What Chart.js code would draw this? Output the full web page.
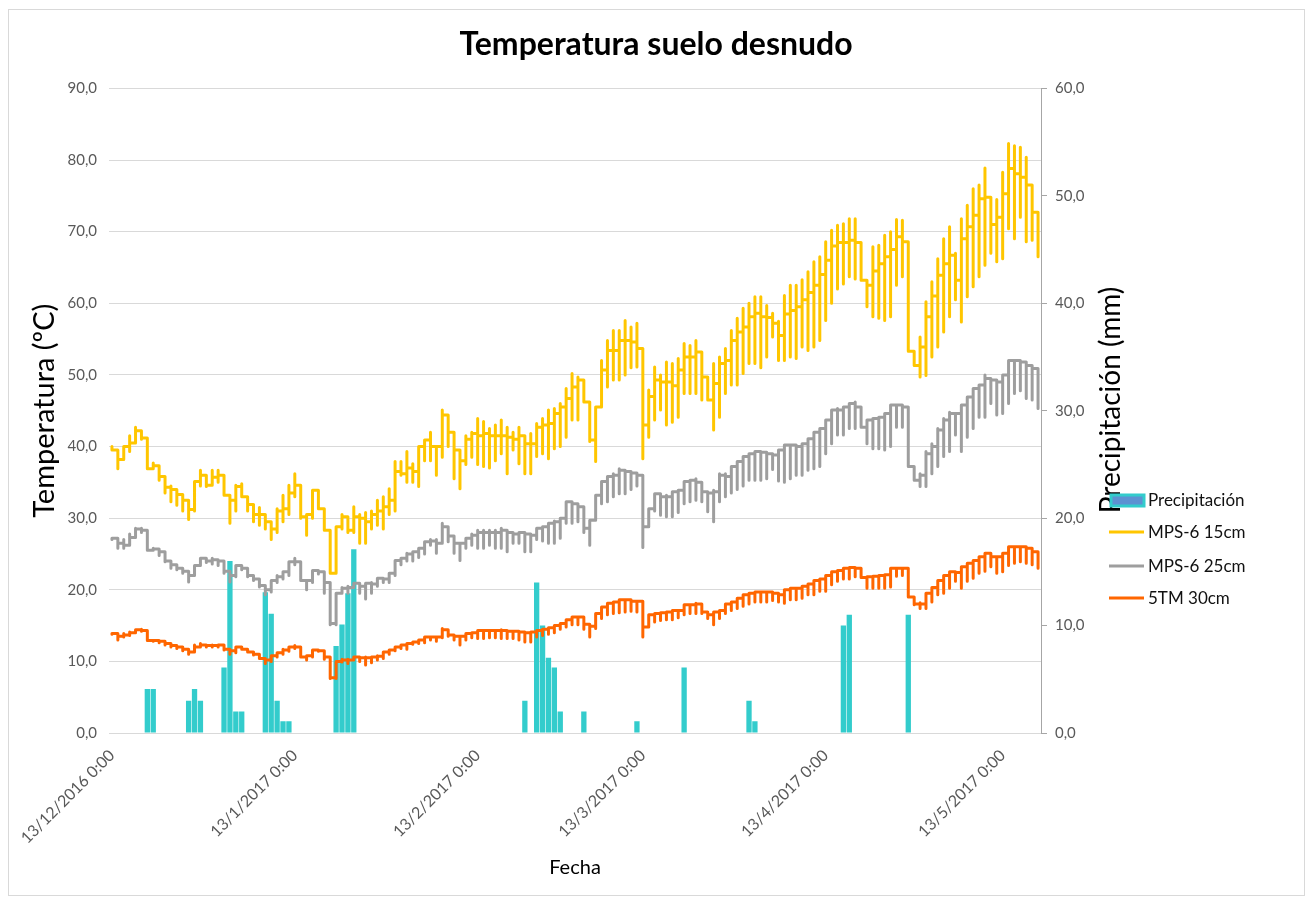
<!DOCTYPE html>
<html><head><meta charset="utf-8">
<script src="https://cdn.jsdelivr.net/npm/chart.js@4.4.1/dist/chart.umd.min.js"></script>
<style>html,body{margin:0;padding:0;background:#fff}#wrap{width:1312px;height:897px;position:relative}</style>
</head><body><div id="wrap"><canvas id="c" width="1312" height="897"></canvas></div>
<script>
// x = day index counted from 13/12/2016
const tickDays = [0, 31, 62, 90, 121, 151];
const tickLabels = ["13/12/2016 0:00", "13/1/2017 0:00", "13/2/2017 0:00", "13/3/2017 0:00", "13/4/2017 0:00", "13/5/2017 0:00"];

const precipDays = [6,7,13,14,15,19,20,21,22,26,27,28,29,30,38,39,40,41,70,72,73,74,75,76,80,89,97,108,109,124,125,135];
const precipMm   = [4.1,4.1,3.0,4.1,3.0,6.1,16.0,2.0,2.0,13.1,11.1,3.0,1.1,1.1,8.1,10.1,13.0,17.1,3.0,14.0,10.0,7.0,6.1,2.0,2.0,1.1,6.1,3.0,1.1,10.0,11.0,11.0];

// MPS-6 15cm : daily min, daily max, midnight level
const mps15Lo = [39.5,36.9,38.2,39.3,40.5,41.0,36.9,36.9,35.3,33.5,
32.3,31.8,31.0,29.8,31.0,34.5,34.4,34.6,35.0,33.4,
29.3,31.0,33.0,31.0,29.5,29.0,28.5,27.0,28.0,29.5,
30.5,33.0,30.0,27.6,30.0,31.3,28.3,22.5,22.3,28.5,
28.0,28.0,26.5,26.5,28.5,29.0,28.5,30.5,31.0,36.0,
35.0,35.0,34.4,38.0,38.0,36.0,38.5,40.0,35.5,34.1,
37.5,38.5,37.5,37.2,37.0,38.0,39.0,36.2,39.5,37.6,
36.2,36.2,38.6,39.0,38.3,39.7,40.0,41.3,43.7,43.7,
46.2,40.7,37.9,45.5,48.3,49.3,49.3,50.0,51.0,51.1,
38.3,41.3,43.7,45.1,43.0,43.4,44.1,47.4,47.4,47.4,
46.5,46.5,42.3,44.1,47.4,48.6,48.6,50.2,51.6,51.6,
51.0,52.5,55.3,52.0,52.0,52.5,52.3,53.9,53.4,53.9,
54.8,57.6,60.0,62.0,62.7,63.7,63.4,63.2,59.5,58.1,
57.9,57.6,58.1,62.5,63.7,53.3,51.3,49.7,49.9,52.5,
53.9,56.0,58.1,60.5,57.4,60.9,62.3,63.7,65.3,67.0,
65.8,66.2,70.4,69.0,72.0,68.6,68.8,66.5];
const mps15Hi = [40.0,39.5,40.0,41.5,42.7,42.2,41.2,37.7,37.3,35.8,
34.5,34.0,33.3,32.5,35.1,36.7,36.0,36.7,36.7,36.0,
33.2,34.6,34.8,33.0,31.9,31.5,30.5,29.5,31.3,33.2,
34.6,36.2,34.6,30.5,33.9,33.9,31.3,28.3,28.8,30.5,
30.2,31.6,30.5,30.8,31.0,32.5,33.0,34.1,37.9,37.9,
39.3,37.6,40.0,40.9,42.0,40.0,45.1,44.4,42.0,39.5,
41.5,42.0,43.9,43.5,42.5,43.0,43.7,42.7,42.0,42.7,
41.3,41.8,43.2,43.9,45.1,45.3,46.0,48.1,50.2,49.7,
49.3,46.2,45.5,52.0,54.8,56.2,56.2,57.6,56.7,57.2,
53.7,47.9,51.1,50.0,51.8,51.6,52.3,54.4,54.1,54.8,
53.0,49.7,51.6,52.5,53.7,56.2,57.9,59.3,60.0,60.9,
60.9,59.7,58.6,57.5,61.1,62.5,62.5,63.3,64.4,65.8,
66.5,68.6,70.2,70.9,71.1,71.8,71.8,68.5,63.2,67.9,
68.1,69.5,70.0,71.7,71.6,68.6,53.3,55.3,60.2,63.0,
66.2,69.0,70.7,67.0,71.8,73.7,76.0,76.5,78.9,74.8,
74.5,78.3,82.3,82.0,81.8,80.4,76.5,72.7];
const mps15Lv = [39.5,38.2,40.0,40.5,42.2,41.2,36.9,37.3,35.8,34.3,
34.0,33.3,32.5,31.2,35.1,36.0,34.6,35.7,36.0,33.2,
32.5,34.4,33.0,31.9,30.5,30.5,29.5,28.5,31.0,31.3,
33.5,34.6,30.2,30.5,33.9,31.3,28.3,22.3,28.8,30.2,
28.3,30.2,30.0,29.5,30.5,31.0,31.6,32.5,36.5,36.2,
37.0,36.5,40.0,40.9,40.0,40.0,44.4,42.0,39.5,38.0,
41.0,41.8,41.5,41.8,41.5,41.5,41.5,41.3,41.0,41.5,
40.4,40.4,42.7,43.0,43.2,44.6,45.5,46.7,48.3,49.3,
46.2,40.9,45.5,50.7,53.4,53.4,54.8,54.8,54.6,53.7,
43.0,47.0,49.3,49.0,49.0,48.5,50.7,52.5,52.5,53.2,
49.7,46.5,48.8,51.6,52.0,54.8,56.0,56.7,58.1,58.6,
58.1,58.0,57.2,55.5,58.5,59.0,59.5,60.5,61.5,62.5,
64.0,66.0,68.0,68.5,68.5,68.8,68.5,63.2,62.5,64.5,
65.5,66.5,67.5,69.3,68.6,53.3,51.3,53.9,58.1,61.0,
63.9,65.5,66.7,63.2,69.0,70.7,72.3,74.6,74.8,71.0,
72.0,75.3,78.8,78.1,77.6,76.5,72.7,66.5];

// MPS-6 25cm
const mps25Lo = [27.0,25.8,25.8,26.2,27.3,28.0,25.5,25.5,24.8,23.9,
23.0,22.8,22.3,21.1,22.0,23.4,23.8,23.6,23.4,22.3,
21.1,21.8,22.8,21.8,21.3,20.4,19.3,19.7,21.0,21.5,
22.0,23.5,21.3,20.0,21.0,22.2,19.5,15.1,15.1,19.5,
19.5,20.3,19.5,18.7,19.5,20.5,21.0,21.0,22.0,23.5,
24.0,24.0,24.5,25.0,26.2,25.1,26.5,26.7,25.1,24.1,
25.8,26.2,25.8,25.8,26.2,25.8,25.8,25.3,26.5,26.5,
25.3,25.3,27.0,26.8,26.5,26.5,27.2,29.3,29.3,29.5,
28.0,26.2,29.7,32.0,32.3,33.0,33.4,33.4,34.0,34.5,
25.9,28.8,31.0,30.4,30.2,30.2,30.8,32.0,32.3,32.5,
32.3,30.9,29.5,32.3,33.0,33.5,34.0,34.5,35.3,35.3,
35.3,35.5,36.8,35.2,35.0,35.5,36.0,36.0,36.7,36.9,
37.2,39.0,40.4,41.6,41.6,42.5,42.5,42.7,40.4,39.7,
39.7,39.5,40.0,42.7,42.7,37.2,35.3,34.4,34.4,36.2,
37.2,38.6,39.3,41.6,39.3,41.3,42.5,44.1,44.1,46.0,
44.4,44.6,46.0,47.4,47.8,46.7,46.5,45.3];
const mps25Hi = [27.2,27.2,27.0,27.8,28.6,28.6,28.3,25.8,25.7,25.3,
24.0,23.5,23.0,22.6,23.4,24.4,24.4,24.4,24.2,24.0,
22.6,23.4,23.4,23.0,22.0,21.5,20.6,21.3,22.0,22.5,
23.9,24.4,23.9,21.3,22.7,22.7,22.5,21.0,19.5,20.3,
20.5,20.9,20.9,20.9,21.0,21.6,21.6,22.3,24.1,24.4,
25.1,25.3,25.8,26.7,27.0,27.0,29.3,28.8,27.5,26.5,
27.2,27.8,28.3,28.3,28.3,28.3,28.6,28.3,28.0,28.0,
28.0,27.8,28.6,28.8,29.3,29.6,30.0,32.3,32.3,32.0,
31.6,28.6,33.2,35.1,35.8,36.2,36.9,36.7,36.5,36.3,
36.0,31.3,33.4,33.4,33.2,33.7,33.9,35.1,35.3,35.5,
35.0,33.7,33.9,36.2,36.2,37.2,37.9,38.6,39.0,39.3,
39.3,39.2,39.0,39.5,40.2,40.2,40.2,40.4,41.1,42.0,
42.5,43.7,45.1,45.3,45.5,46.0,46.2,45.5,42.7,43.9,
44.1,44.6,45.8,45.8,45.8,45.5,37.2,36.2,39.3,40.4,
42.5,43.9,44.8,44.6,45.8,46.9,48.1,48.6,50.0,49.5,
49.3,50.0,52.0,52.0,52.0,51.3,50.9,49.0];
const mps25Lv = [27.2,26.5,26.2,27.3,28.5,28.3,25.5,25.7,25.3,24.0,
23.5,23.0,22.6,22.0,23.4,24.4,24.0,24.2,24.0,22.6,
22.0,23.4,23.0,22.0,21.5,20.6,20.0,21.3,21.8,22.5,
23.9,23.9,21.3,21.3,22.7,22.5,21.0,15.3,19.5,20.2,
20.3,20.9,20.5,20.9,20.8,21.6,21.5,22.3,24.1,24.4,
25.0,25.3,25.8,26.7,26.8,26.5,28.8,27.5,26.5,26.5,
27.2,27.6,28.0,28.0,28.0,28.0,28.3,28.0,27.8,28.0,
27.8,27.6,28.6,28.8,29.3,29.5,30.0,32.3,32.0,31.6,
28.6,29.7,33.2,35.1,35.8,36.0,36.7,36.5,36.3,36.0,
28.8,31.3,33.4,33.0,33.0,33.7,33.9,35.1,35.3,35.0,
33.7,33.5,33.7,36.0,35.8,37.2,37.9,38.6,39.0,39.3,
39.2,39.0,38.8,39.5,40.2,40.2,40.0,40.4,41.1,42.0,
42.5,43.7,45.1,45.1,45.5,46.0,45.5,42.7,43.7,43.9,
44.1,44.6,45.8,45.8,45.5,37.2,35.3,36.0,39.0,40.0,
42.3,43.7,44.6,44.6,45.8,46.9,48.1,48.6,49.5,49.3,
49.0,50.0,52.0,52.0,51.8,51.3,50.9,48.5];

// 5TM 30cm
const tm30Lo = [13.8,13.0,13.4,13.6,14.0,14.2,12.9,12.8,12.6,12.3,
12.0,11.8,11.5,11.0,11.3,12.0,12.0,12.0,12.0,11.6,
11.0,11.2,11.7,11.3,10.9,10.4,9.7,10.0,10.6,11.0,
11.4,11.8,10.6,10.2,10.6,11.4,10.3,7.6,7.6,9.9,
9.7,10.2,10.0,9.5,9.8,10.2,10.4,11.0,11.5,11.8,
11.7,12.4,12.5,12.6,13.0,12.8,13.3,13.5,13.0,12.3,
13.0,13.3,13.2,13.2,13.3,13.3,13.2,13.2,13.2,13.0,
12.7,12.7,13.4,13.6,13.8,14.0,14.5,14.8,15.1,15.1,
14.5,13.4,14.6,16.0,16.5,16.7,16.8,16.9,17.0,16.9,
13.4,14.8,15.5,15.7,15.8,15.8,16.1,16.5,16.7,16.7,
16.7,16.0,15.1,16.0,16.7,17.1,17.4,17.7,18.0,18.3,
18.3,18.3,18.5,18.3,18.1,18.6,18.6,18.8,19.3,19.3,
19.8,19.8,20.7,21.2,21.5,21.5,21.8,21.7,20.2,20.2,
20.2,20.2,20.4,21.9,22.0,19.0,17.9,17.4,17.4,18.3,
19.3,19.5,20.2,21.2,20.2,21.2,21.6,22.3,22.6,23.2,
22.3,22.5,23.4,23.7,23.9,23.7,23.5,23.0];
const tm30Hi = [13.9,13.9,13.9,14.1,14.4,14.5,14.3,12.9,12.9,12.8,
12.5,12.2,12.0,11.7,12.3,12.5,12.3,12.3,12.3,12.3,
11.7,12.0,12.0,11.7,11.3,11.0,10.4,10.8,11.2,11.7,
12.0,12.2,12.0,10.8,11.6,11.6,11.5,10.6,10.0,10.3,
10.3,10.6,10.6,10.6,10.6,10.8,11.3,11.6,12.0,12.3,
12.5,12.7,13.0,13.4,13.4,13.4,14.6,14.4,13.7,13.5,
13.9,14.0,14.3,14.3,14.3,14.3,14.4,14.3,14.2,14.2,
14.1,14.0,14.1,14.3,14.6,14.8,15.2,15.8,16.2,16.2,
16.2,15.2,16.7,17.6,18.1,18.3,18.6,18.6,18.6,18.4,
18.4,16.5,16.7,16.8,16.9,17.1,17.1,17.9,17.9,18.1,
18.0,16.9,16.9,17.1,18.0,18.3,18.8,19.3,19.5,19.7,
19.7,19.7,19.7,19.5,20.0,20.2,20.2,20.5,20.8,21.3,
21.5,22.0,22.5,22.7,23.0,23.1,23.1,23.0,21.7,21.9,
22.0,22.1,23.0,23.0,23.0,23.0,19.0,18.2,19.5,20.3,
21.3,22.0,22.5,22.4,23.2,23.7,24.1,24.6,25.1,25.1,
24.6,25.1,26.0,26.0,26.0,25.8,25.5,24.6];
const tm30Lv = [13.9,13.5,13.7,14.0,14.4,14.3,12.9,12.9,12.8,12.5,
12.2,12.0,11.7,11.3,12.0,12.3,12.2,12.2,12.3,11.7,
11.5,12.0,11.7,11.3,11.0,10.4,10.2,10.8,11.2,11.6,
12.0,12.0,10.6,10.8,11.6,11.5,10.6,7.7,10.0,10.2,
10.2,10.6,10.5,10.5,10.6,10.7,11.3,11.6,12.0,12.3,
12.5,12.7,13.0,13.4,13.4,13.4,14.4,13.7,13.5,13.5,
13.9,14.0,14.3,14.3,14.3,14.3,14.3,14.2,14.2,14.1,
14.0,14.1,14.3,14.5,14.7,15.0,15.3,15.8,16.2,16.2,
15.2,14.9,16.7,17.6,18.1,18.3,18.6,18.6,18.4,18.4,
14.8,16.5,16.7,16.8,16.9,17.1,17.1,17.9,17.9,18.0,
16.9,16.5,16.9,17.1,18.0,18.3,18.8,19.3,19.5,19.7,
19.7,19.7,19.5,19.3,20.0,20.2,20.2,20.5,20.8,21.3,
21.5,22.0,22.5,22.7,23.0,23.1,23.0,21.7,21.8,21.9,
22.0,22.1,23.0,23.0,23.0,19.0,18.0,18.0,19.5,20.3,
21.3,22.0,22.5,22.4,23.2,23.7,24.1,24.6,25.1,24.6,
24.6,25.1,26.0,26.0,26.0,25.8,25.3,24.3];

// All readings of one day share the same x on a day-based axis (Excel date axis look)
function trace(lo, hi, lv) {
  const pts = [];
  let prev = lv[0];
  for (let d = 0; d < lv.length; d++) {
    pts.push({x: d, y: prev}, {x: d, y: lo[d]}, {x: d, y: hi[d]}, {x: d, y: lv[d]});
    prev = lv[d];
  }
  return pts;
}

const FONT = 'Lato';
const C_Y = '#FFC600', C_G = '#9E9E9E', C_O = '#FF6600', C_T = '#33CCCC';
const fmt = v => Number(v).toFixed(1).replace('.', ',');

const extras = {
  id: 'extras',
  afterDraw(chart) {
    const c = chart.ctx, a = chart.chartArea;
    // right axis title (reads bottom to top, like Excel)
    c.save();
    c.translate(a.right + 70, 400);
    c.rotate(-Math.PI / 2);
    c.font = '28px ' + FONT;
    c.fillStyle = '#000';
    c.textAlign = 'center';
    c.textBaseline = 'middle';
    c.fillText('Precipitación (mm)', 0, 0);
    c.restore();
    // legend
    const items = [
      {t: 'Precipitación', bar: true},
      {t: 'MPS-6 15cm', col: C_Y},
      {t: 'MPS-6 25cm', col: C_G},
      {t: '5TM 30cm', col: C_O}
    ];
    const lx = a.right + 68, ys = [500, 532, 566, 598];
    c.save();
    c.font = '17px ' + FONT;
    c.textBaseline = 'middle';
    c.textAlign = 'left';
    items.forEach((it, i) => {
      const y = ys[i];
      if (it.bar) {
        c.fillStyle = '#5D92D2';
        c.fillRect(lx + 2, y - 5, 33, 11);
        c.strokeStyle = C_T; c.lineWidth = 3;
        c.strokeRect(lx + 2, y - 5, 33, 11);
      } else {
        c.strokeStyle = it.col; c.lineWidth = 3;
        c.beginPath(); c.moveTo(lx, y); c.lineTo(lx + 35, y); c.stroke();
      }
      c.fillStyle = '#111';
      c.fillText(it.t, lx + 39, y + 1);
    });
    c.restore();
    // chart border
    c.save();
    c.strokeStyle = '#D9D9D9'; c.lineWidth = 1;
    c.strokeRect(8.5, 9.5, 1296, 886);
    c.restore();
  }
};

const lineDs = (label, data, color) => ({
  type: 'line', label, data, borderColor: color, backgroundColor: color, borderWidth: 3,
  pointRadius: 0, tension: 0, fill: false, yAxisID: 'y',
  borderJoinStyle: 'round', borderCapStyle: 'round'
});

new Chart(document.getElementById('c'), {
  type: 'line',
  data: {
    datasets: [
      lineDs('MPS-6 15cm', trace(mps15Lo, mps15Hi, mps15Lv), C_Y),
      lineDs('MPS-6 25cm', trace(mps25Lo, mps25Hi, mps25Lv), C_G),
      lineDs('5TM 30cm', trace(tm30Lo, tm30Hi, tm30Lv), C_O),
      {
        type: 'bar', label: 'Precipitación',
        data: precipDays.map((d, i) => ({x: d, y: precipMm[i]})),
        backgroundColor: C_T, borderWidth: 0, yAxisID: 'y2',
        barPercentage: 1.0, categoryPercentage: 0.9
      }
    ]
  },
  options: {
    responsive: false, animation: false, devicePixelRatio: 1,
    layout: {padding: 0},
    plugins: {
      legend: {display: false},
      tooltip: {enabled: false},
      title: {
        display: true, text: 'Temperatura suelo desnudo', color: '#000',
        font: {family: FONT, size: 32, weight: 'bold'},
        padding: {top: 25, bottom: 25}
      }
    },
    scales: {
      x: {
        type: 'linear', min: -0.5, max: 157.5, offset: false,
        grid: {display: false, drawTicks: false, offset: false},
        border: {display: false},
        afterBuildTicks: s => { s.ticks = tickDays.map(v => ({value: v})); },
        afterFit: s => { s.height = 164; },
        ticks: {
          autoSkip: false, minRotation: 45, maxRotation: 45, padding: 13,
          color: '#595959', font: {family: FONT, size: 16},
          callback: v => { const i = tickDays.indexOf(v); return i >= 0 ? tickLabels[i] : ''; }
        },
        title: {display: true, text: 'Fecha', color: '#000', font: {family: FONT, size: 20}, padding: {top: 0, bottom: 17}}
      },
      y: {
        position: 'left', min: 0, max: 90,
        ticks: {stepSize: 10, padding: 12, color: '#595959', font: {family: FONT, size: 15}, callback: fmt},
        grid: {color: '#D9D9D9', drawTicks: false, lineWidth: 1},
        border: {display: false},
        afterFit: s => { s.width = 109; },
        title: {display: true, text: 'Temperatura (ºC)', color: '#000', font: {family: FONT, size: 29}, padding: {top: 27, bottom: 0}}
      },
      y2: {
        position: 'right', min: 0, max: 60,
        ticks: {stepSize: 10, padding: 8, color: '#595959', font: {family: FONT, size: 15}, callback: fmt},
        grid: {drawOnChartArea: false, drawTicks: true, tickLength: 6, color: '#A6A6A6'},
        border: {display: true, color: '#A6A6A6'},
        afterFit: s => { s.width = 271; }
      }
    }
  },
  plugins: [extras]
});
</script>
</body></html>
